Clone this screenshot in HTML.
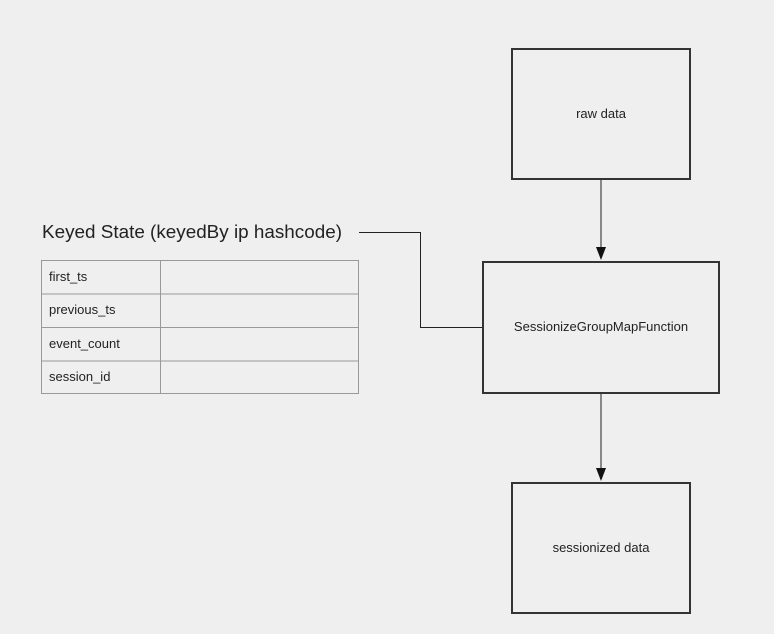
<!DOCTYPE html>
<html><head><style>
html,body{margin:0;padding:0;background:#efefef;}
svg{display:block;}
text{font-family:"Liberation Sans","DejaVu Sans",sans-serif;fill:#222;}
</style></head><body>
<svg width="774" height="634" viewBox="0 0 774 634">
<rect width="774" height="634" fill="#efefef"/>
<rect x="512" y="49" width="178" height="130" fill="none" stroke="#333" stroke-width="2"/>
<text x="601" y="118" font-size="13" text-anchor="middle">raw data</text>
<rect x="483" y="262" width="236" height="131" fill="none" stroke="#333" stroke-width="2"/>
<text x="601" y="331" font-size="13" text-anchor="middle">SessionizeGroupMapFunction</text>
<rect x="512" y="483" width="178" height="130" fill="none" stroke="#333" stroke-width="2"/>
<text x="601" y="552" font-size="13" text-anchor="middle">sessionized data</text>
<line x1="601" y1="180" x2="601" y2="250" stroke="#666" stroke-width="1.5"/>
<polygon points="596,247 606,247 601,260" fill="#111"/>
<line x1="601" y1="394" x2="601" y2="471" stroke="#666" stroke-width="1.5"/>
<polygon points="596,468 606,468 601,481" fill="#111"/>
<polyline points="359,232.5 420.5,232.5 420.5,327.5 482,327.5" fill="none" stroke="#222" stroke-width="1"/>
<text x="42" y="238" font-size="18" textLength="300" lengthAdjust="spacingAndGlyphs">Keyed State (keyedBy ip hashcode)</text>
<g stroke="#999" stroke-width="1" fill="none">
<rect x="41.5" y="260.5" width="317" height="133"/>
<line x1="41" y1="294" x2="359" y2="294"/>
<line x1="41" y1="327.5" x2="359" y2="327.5"/>
<line x1="41" y1="361" x2="359" y2="361"/>
<line x1="160.5" y1="260" x2="160.5" y2="394"/>
</g>
<text x="49" y="281" font-size="13">first_ts</text>
<text x="49" y="314" font-size="13">previous_ts</text>
<text x="49" y="348" font-size="13">event_count</text>
<text x="49" y="381" font-size="13">session_id</text>
</svg>
</body></html>
